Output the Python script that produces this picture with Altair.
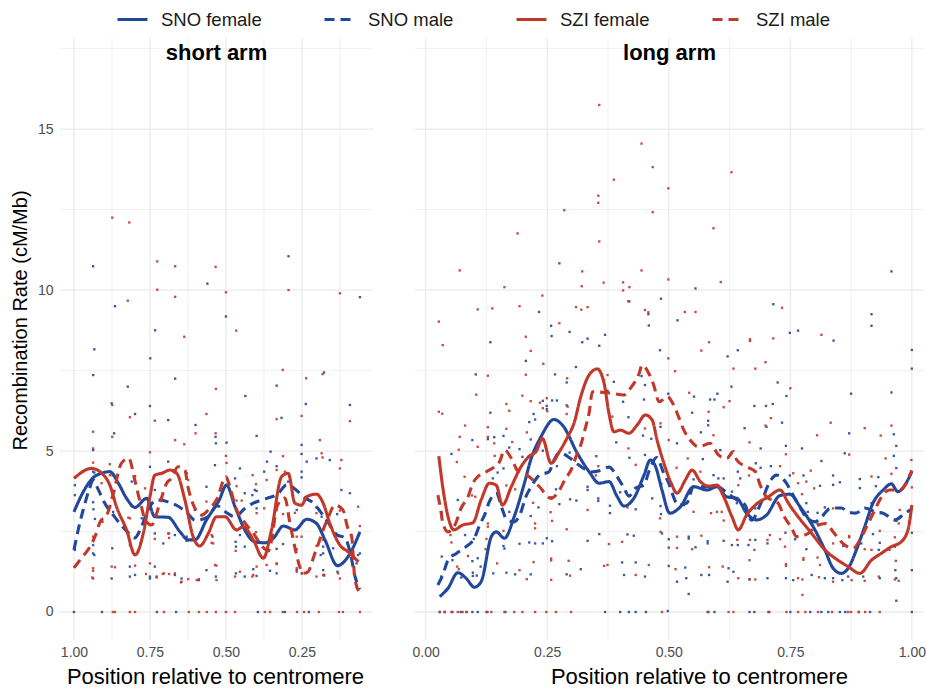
import altair as alt
import pandas as pd

# ---------------------------------------------------------------- data
SERIES = ["SNO female", "SNO male", "SZI female", "SZI male"]

# smoothed recombination-rate profiles, short arm (position runs from 1 at the tip to 0 at the centromere)
short_sno_female = [(1.0, 3.11), (0.969, 3.74), (0.936, 4.18), (0.909, 4.31), (0.882, 4.36), (0.854, 4.0),
                    (0.827, 3.53), (0.799, 3.25), (0.761, 3.53), (0.734, 2.96), (0.69, 2.94), (0.651, 2.49),
                    (0.624, 2.24), (0.602, 2.24), (0.564, 2.86), (0.522, 3.48), (0.498, 3.94), (0.47, 3.27),
                    (0.438, 2.55), (0.405, 2.18), (0.372, 2.15), (0.344, 2.29), (0.311, 2.67), (0.273, 2.55),
                    (0.234, 2.88), (0.202, 2.75), (0.174, 2.24), (0.133, 1.44), (0.098, 1.72), (0.059, 2.49)]
short_sno_male = [(1.0, 1.93), (0.985, 2.6), (0.969, 3.2), (0.95, 3.8), (0.937, 4.1), (0.92, 3.8), (0.9, 3.4),
                  (0.87, 3.0), (0.845, 2.7), (0.82, 2.45), (0.8, 2.3), (0.78, 2.6), (0.755, 3.2), (0.727, 3.48),
                  (0.69, 3.42), (0.66, 3.3), (0.63, 3.1), (0.6, 2.85), (0.56, 2.95), (0.53, 3.3), (0.5, 3.1),
                  (0.47, 2.95), (0.44, 3.2), (0.41, 3.38), (0.365, 3.53), (0.33, 3.66), (0.3, 3.95), (0.27, 3.8),
                  (0.24, 3.54), (0.217, 3.42), (0.18, 3.0), (0.165, 2.8), (0.135, 2.4), (0.108, 2.3), (0.09, 1.8),
                  (0.075, 1.1), (0.06, 0.7)]
short_szi_female = [(1.0, 4.15), (0.942, 4.46), (0.909, 4.31), (0.882, 3.94), (0.86, 3.27), (0.827, 2.55),
                    (0.799, 1.77), (0.772, 2.44), (0.75, 3.58), (0.734, 4.25), (0.711, 4.31), (0.684, 4.41),
                    (0.662, 4.31), (0.635, 3.48), (0.608, 2.34), (0.586, 2.05), (0.558, 2.44), (0.531, 2.96),
                    (0.503, 2.96), (0.465, 2.55), (0.443, 2.65), (0.41, 2.24), (0.377, 1.67), (0.35, 2.55),
                    (0.317, 4.2), (0.295, 4.31), (0.273, 3.38), (0.251, 3.32), (0.234, 3.58), (0.202, 3.66),
                    (0.18, 3.38), (0.158, 2.75), (0.125, 2.08), (0.098, 1.87), (0.064, 1.56)]
short_szi_male = [(1.0, 1.37), (0.975, 1.68), (0.947, 2.03), (0.931, 2.34), (0.914, 2.8), (0.892, 3.01),
                  (0.87, 3.7), (0.845, 4.6), (0.82, 4.78), (0.8, 4.1), (0.788, 3.63), (0.777, 3.23), (0.766, 2.86),
                  (0.745, 2.7), (0.72, 3.3), (0.695, 4.0), (0.679, 4.15), (0.658, 4.51), (0.635, 4.41),
                  (0.625, 3.89), (0.613, 3.48), (0.58, 3.01), (0.558, 3.17), (0.53, 3.5), (0.5, 4.2), (0.487, 3.89),
                  (0.47, 3.3), (0.44, 2.8), (0.41, 2.45), (0.377, 2.0), (0.36, 1.9), (0.33, 3.32), (0.306, 3.54),
                  (0.29, 2.8), (0.273, 2.0), (0.26, 1.5), (0.247, 1.2), (0.231, 1.24), (0.207, 1.83), (0.197, 2.08),
                  (0.18, 2.55), (0.165, 2.9), (0.141, 3.32), (0.115, 3.17), (0.1, 2.64), (0.086, 2.33),
                  (0.076, 1.05), (0.06, 0.6)]

# smoothed profiles, long arm (0 at the centromere, 1 at the tip)
long_sno_female = [(0.029, 0.48), (0.046, 0.74), (0.066, 1.22), (0.083, 1.05), (0.1, 0.77), (0.114, 0.94),
                   (0.135, 2.34), (0.145, 2.49), (0.162, 2.29), (0.182, 2.96), (0.203, 4.0), (0.217, 4.77),
                   (0.237, 5.44), (0.264, 5.98), (0.281, 5.81), (0.312, 4.93), (0.336, 4.36), (0.357, 4.0),
                   (0.377, 4.05), (0.394, 3.58), (0.408, 3.29), (0.428, 3.53), (0.449, 4.25), (0.462, 4.72),
                   (0.473, 4.51), (0.486, 3.79), (0.502, 3.07), (0.524, 3.27), (0.551, 3.89), (0.579, 3.79),
                   (0.599, 3.89), (0.619, 3.58), (0.64, 3.53), (0.66, 3.07), (0.681, 2.86), (0.701, 3.01),
                   (0.729, 3.62), (0.749, 3.66), (0.77, 3.27), (0.797, 2.65), (0.821, 1.93), (0.838, 1.36),
                   (0.855, 1.2), (0.869, 1.36), (0.886, 1.93), (0.903, 2.65), (0.92, 3.38), (0.941, 3.79),
                   (0.958, 3.98), (0.971, 3.74), (1.0, 4.36)]
long_sno_male = [(0.025, 0.84), (0.035, 1.15), (0.046, 1.61), (0.063, 1.82), (0.083, 2.03), (0.1, 2.29),
                 (0.111, 2.7), (0.121, 3.01), (0.131, 3.43), (0.145, 3.69), (0.158, 3.17), (0.165, 2.91),
                 (0.182, 2.8), (0.196, 3.11), (0.206, 3.58), (0.217, 3.89), (0.234, 4.25), (0.254, 4.36),
                 (0.264, 4.72), (0.275, 4.95), (0.295, 4.8), (0.312, 4.6), (0.326, 4.45), (0.34, 4.35), (0.36, 4.4),
                 (0.377, 4.5), (0.394, 4.2), (0.408, 3.85), (0.418, 3.6), (0.432, 3.85), (0.449, 3.95), (0.46, 4.4),
                 (0.475, 4.8), (0.49, 4.3), (0.5, 4.0), (0.506, 3.73), (0.52, 3.32), (0.537, 3.38), (0.551, 3.89),
                 (0.565, 3.89), (0.6, 3.9), (0.62, 3.7), (0.64, 3.48), (0.657, 3.32), (0.67, 2.85), (0.69, 3.4),
                 (0.708, 4.05), (0.722, 4.25), (0.742, 4.0), (0.752, 3.73), (0.77, 3.25), (0.785, 2.9),
                 (0.801, 2.8), (0.811, 2.9), (0.834, 3.23), (0.855, 3.23), (0.87, 3.1), (0.885, 3.07),
                 (0.903, 3.23), (0.926, 3.1), (0.941, 3.07), (0.965, 2.86), (0.986, 3.07), (1.0, 3.2)]
long_szi_female = [(0.027, 4.84), (0.035, 3.89), (0.046, 2.96), (0.058, 2.55), (0.076, 2.7), (0.097, 2.77),
                   (0.114, 3.48), (0.131, 4.0), (0.145, 3.94), (0.158, 3.32), (0.176, 3.89), (0.196, 4.51),
                   (0.213, 4.84), (0.227, 4.98), (0.24, 5.39), (0.258, 4.62), (0.275, 4.98), (0.292, 5.44),
                   (0.305, 5.86), (0.319, 6.69), (0.336, 7.36), (0.353, 7.55), (0.367, 7.1), (0.377, 6.17),
                   (0.387, 5.6), (0.401, 5.65), (0.418, 5.55), (0.435, 5.81), (0.452, 6.12), (0.466, 5.96),
                   (0.476, 5.34), (0.49, 4.62), (0.505, 4.0), (0.517, 3.69), (0.534, 4.1), (0.548, 4.41),
                   (0.565, 4.05), (0.582, 3.91), (0.599, 3.94), (0.613, 3.58), (0.63, 2.96), (0.643, 2.55),
                   (0.66, 3.01), (0.678, 3.32), (0.705, 3.58), (0.729, 3.79), (0.746, 3.38), (0.766, 2.96),
                   (0.794, 2.44), (0.821, 1.93), (0.848, 1.61), (0.869, 1.41), (0.893, 1.2), (0.917, 1.61),
                   (0.937, 1.82), (0.958, 2.03), (0.978, 2.18), (0.992, 2.55), (1.0, 3.32)]
long_szi_male = [(0.025, 3.63), (0.031, 3.17), (0.035, 2.77), (0.046, 2.49), (0.06, 2.7), (0.073, 3.23),
                 (0.087, 3.58), (0.097, 4.0), (0.107, 4.2), (0.13, 4.4), (0.152, 4.67), (0.162, 5.03),
                 (0.178, 4.72), (0.188, 4.41), (0.213, 4.2), (0.234, 3.89), (0.258, 3.53), (0.271, 3.69),
                 (0.288, 4.15), (0.299, 4.41), (0.309, 4.82), (0.319, 5.19), (0.329, 5.75), (0.336, 6.17),
                 (0.343, 6.84), (0.38, 6.8), (0.408, 6.74), (0.421, 6.95), (0.439, 7.41), (0.445, 7.67),
                 (0.459, 7.41), (0.469, 7.05), (0.48, 6.53), (0.497, 6.69), (0.51, 6.43), (0.52, 6.07),
                 (0.531, 5.65), (0.544, 5.34), (0.561, 5.13), (0.585, 5.24), (0.602, 4.88), (0.619, 4.77),
                 (0.633, 4.98), (0.64, 4.72), (0.66, 4.51), (0.678, 4.36), (0.688, 3.94), (0.701, 3.58),
                 (0.725, 3.38), (0.736, 3.01), (0.753, 2.6), (0.763, 2.34), (0.787, 2.44), (0.801, 2.65),
                 (0.824, 2.75), (0.838, 2.49), (0.862, 2.08), (0.879, 1.98), (0.9, 2.44), (0.91, 2.75),
                 (0.924, 3.17), (0.934, 3.48), (0.954, 3.79), (0.975, 3.79), (1.0, 4.4)]

# per-window estimates (position, rate); windows with no crossover are listed separately at rate 0
short_sno_points = [(0.937, 10.74), (0.294, 11.05), (0.561, 10.2), (0.059, 9.78), (0.865, 9.5), (0.5, 9.18),
                    (0.733, 8.75), (0.933, 8.16), (0.749, 7.88), (0.937, 7.36), (0.177, 7.44), (0.667, 7.25),
                    (0.823, 7.0), (0.333, 7.03), (0.436, 6.71), (0.876, 6.48), (0.237, 6.46), (0.092, 6.43),
                    (0.75, 6.4), (0.799, 6.15), (0.317, 6.03), (0.69, 5.96), (0.6, 5.81), (0.868, 5.55),
                    (0.399, 5.47), (0.534, 5.44), (0.498, 5.26), (0.533, 5.24), (0.251, 5.19), (0.937, 5.03),
                    (0.353, 4.98), (0.251, 4.91), (0.202, 4.77), (0.158, 4.72), (0.234, 4.67), (0.69, 4.67),
                    (0.365, 4.67), (0.536, 4.56), (0.333, 4.53), (0.75, 4.51), (0.454, 4.46), (0.937, 4.36),
                    (0.374, 4.36), (0.251, 4.36), (0.933, 4.33), (0.629, 4.31), (0.873, 4.25), (0.799, 4.22),
                    (0.251, 4.18), (0.47, 4.15), (0.81, 4.05), (0.295, 4.05), (0.997, 3.94), (0.564, 3.89),
                    (0.405, 3.79), (0.12, 3.79), (0.734, 3.79), (0.399, 3.76), (0.092, 3.69), (0.438, 3.69),
                    (0.413, 3.63), (0.997, 3.63), (0.717, 3.48), (0.937, 3.41), (0.75, 3.38), (0.81, 3.29),
                    (0.202, 3.25), (0.399, 3.22), (0.936, 3.19), (0.602, 3.17), (0.267, 3.17), (0.871, 3.11),
                    (0.134, 3.04), (0.185, 2.96), (0.777, 2.91), (0.931, 2.89), (0.734, 2.44), (0.454, 2.39),
                    (0.668, 2.39), (0.629, 2.34), (0.544, 2.34), (0.629, 2.21), (0.468, 2.18), (0.706, 2.13),
                    (0.312, 2.11), (0.937, 2.08), (0.816, 2.08), (0.467, 2.03), (0.438, 2.03), (0.18, 2.03),
                    (0.147, 1.98), (0.874, 1.98), (0.333, 1.96), (0.997, 1.93), (0.937, 1.82), (0.18, 1.82),
                    (0.059, 1.82), (0.933, 1.77), (0.188, 1.77), (0.065, 1.77), (0.07, 1.51), (0.816, 1.41),
                    (0.734, 1.41), (0.564, 1.3), (0.41, 1.33), (0.18, 1.3), (0.267, 1.3), (0.355, 1.28),
                    (0.133, 1.25), (0.467, 1.2), (0.333, 1.2), (0.25, 1.2), (0.799, 1.15), (0.668, 1.15),
                    (0.177, 1.15), (0.399, 1.12), (0.75, 1.1), (0.728, 1.1), (0.533, 1.1), (0.438, 1.1),
                    (0.816, 1.1), (0.876, 1.04), (0.646, 1.04), (0.75, 1.04), (0.589, 0.99)]
short_sno_zero = [1.0, 0.908, 0.727, 0.664, 0.395, 0.306, 0.227]

short_szi_points = [(0.874, 12.25), (0.818, 12.1), (0.726, 10.89), (0.667, 10.74), (0.534, 10.72), (0.726, 10.01),
                    (0.823, 9.67), (0.667, 9.79), (0.5, 9.93), (0.294, 10.0), (0.125, 9.9), (0.637, 8.55),
                    (0.466, 8.74), (0.313, 7.52), (0.236, 7.26), (0.182, 7.39), (0.533, 6.93), (0.874, 6.43),
                    (0.564, 6.15), (0.251, 6.09), (0.816, 6.05), (0.333, 5.99), (0.734, 5.94), (0.092, 5.93),
                    (0.937, 5.6), (0.6, 5.55), (0.534, 5.55), (0.874, 5.44), (0.667, 5.34), (0.191, 5.34),
                    (0.637, 5.21), (0.937, 5.08), (0.75, 4.96), (0.185, 4.93), (0.5, 4.85), (0.312, 4.84),
                    (0.182, 4.8), (0.12, 4.72), (0.937, 4.64), (0.498, 4.63), (0.882, 4.59), (0.125, 4.46),
                    (0.333, 4.41), (0.306, 4.36), (0.882, 4.25), (0.412, 4.25), (0.366, 4.1), (0.624, 4.1),
                    (0.909, 4.0), (0.401, 3.97), (0.465, 3.91), (0.766, 3.84), (0.476, 3.48), (0.465, 3.46),
                    (0.448, 3.46), (0.564, 3.43), (0.065, 3.27), (0.374, 3.22), (0.194, 3.19), (0.125, 3.15),
                    (0.273, 3.08), (0.399, 3.07), (0.202, 3.07), (0.312, 3.04), (0.821, 2.93), (0.816, 2.91),
                    (0.906, 2.8), (0.059, 2.67), (0.401, 2.48), (0.69, 2.44), (0.687, 2.44), (0.547, 2.39),
                    (0.937, 2.34), (0.251, 2.34), (0.267, 2.34), (0.799, 2.31), (0.687, 2.3), (0.734, 2.27),
                    (0.18, 2.24), (0.547, 2.15), (0.542, 2.13), (0.202, 2.05), (0.267, 1.95), (0.468, 1.9),
                    (0.75, 1.51), (0.333, 1.51), (0.366, 1.46), (0.536, 1.46), (0.333, 1.49), (0.799, 1.44),
                    (0.531, 1.44), (0.876, 1.41), (0.997, 1.41), (0.399, 1.41), (0.865, 1.39), (0.937, 1.36),
                    (0.267, 1.36), (0.937, 1.28), (0.454, 1.25), (0.267, 1.25), (0.704, 1.2), (0.668, 1.2),
                    (0.25, 1.2), (0.131, 1.2), (0.763, 1.18), (0.708, 1.18), (0.687, 1.18), (0.41, 1.15),
                    (0.18, 1.15), (0.177, 1.13), (0.47, 1.1), (0.413, 1.1), (0.202, 1.1), (0.728, 1.07),
                    (0.94, 1.07), (0.937, 1.04), (0.125, 1.04), (0.624, 1.02), (0.589, 1.02), (0.531, 0.99),
                    (0.596, 0.99), (0.646, 0.94), (0.648, 0.92)]
short_szi_zero = [0.872, 0.865, 0.816, 0.799, 0.704, 0.622, 0.589, 0.563, 0.533, 0.5, 0.47, 0.372, 0.355,
                  0.313, 0.266, 0.243, 0.194, 0.128, 0.115, 0.059]

long_sno_points = [(0.275, 10.83), (0.958, 10.58), (0.555, 10.05), (0.484, 9.73), (0.417, 9.65), (0.715, 9.56),
                   (0.233, 9.32), (0.458, 9.25), (0.917, 9.25), (0.917, 8.89), (0.258, 8.89), (0.459, 8.9),
                   (0.518, 9.06), (0.296, 8.7), (0.259, 8.57), (0.369, 8.61), (0.766, 8.74), (0.749, 8.67),
                   (0.839, 8.43), (0.133, 8.38), (0.322, 8.38), (0.333, 8.49), (0.357, 8.27), (0.482, 8.13),
                   (0.621, 7.94), (0.642, 8.13), (1.0, 8.14), (1.0, 7.56), (0.206, 7.8), (0.309, 7.61),
                   (0.103, 7.38), (0.266, 7.38), (0.444, 7.33), (0.724, 7.13), (0.29, 7.13), (0.958, 6.82),
                   (0.875, 6.78), (0.629, 7.0), (0.742, 6.71), (0.451, 7.05), (0.387, 7.15), (0.374, 6.87),
                   (0.499, 6.78), (0.552, 6.69), (0.6, 6.78), (0.449, 6.6), (0.406, 6.53), (0.585, 6.6),
                   (0.594, 6.6), (0.241, 6.56), (0.26, 6.57), (0.27, 6.57), (0.249, 6.4), (0.29, 6.42),
                   (0.676, 6.4), (0.714, 6.46), (0.7, 6.4), (0.249, 6.3), (0.548, 6.19), (0.133, 6.19),
                   (0.222, 6.15), (0.417, 6.05), (0.225, 5.98), (0.581, 5.94), (0.213, 5.9), (0.733, 5.88),
                   (0.581, 5.8), (0.483, 5.75), (0.701, 5.75), (0.656, 5.71), (0.3, 5.68), (0.566, 5.58),
                   (0.871, 5.55), (0.963, 5.52), (0.447, 5.48), (0.16, 5.47), (0.141, 5.43), (0.464, 5.38),
                   (0.128, 5.37), (0.216, 5.36), (0.096, 5.34), (0.392, 5.27), (0.517, 5.24), (0.968, 5.16),
                   (0.741, 5.16), (0.172, 5.11), (0.689, 5.08), (0.774, 5.08), (0.193, 5.06), (0.606, 5.03),
                   (0.241, 5.01), (0.296, 4.95), (0.862, 4.93), (0.053, 4.91), (0.451, 4.88), (0.963, 4.85),
                   (0.351, 4.84), (0.199, 4.82), (0.419, 4.79), (0.57, 4.75), (0.814, 4.69), (0.679, 4.62),
                   (0.27, 4.53), (0.71, 4.53), (0.689, 4.48), (0.968, 4.47), (0.16, 4.46), (0.642, 4.36),
                   (0.148, 4.33), (0.592, 4.25), (0.749, 4.24), (0.777, 4.24), (0.838, 4.24), (0.931, 4.19),
                   (0.602, 4.15), (0.613, 4.15), (0.647, 4.15), (0.138, 4.15), (0.893, 4.13), (0.551, 4.12),
                   (0.852, 4.03), (0.838, 3.95), (0.811, 3.92), (0.926, 3.91), (0.333, 3.89), (0.893, 3.85),
                   (0.268, 3.81), (0.333, 3.79), (0.63, 3.74), (0.4, 3.72), (0.258, 3.56), (0.355, 3.53),
                   (0.466, 3.53), (0.297, 3.5), (0.066, 3.48), (0.31, 3.46), (0.355, 3.45), (0.64, 3.38),
                   (0.783, 3.38), (0.917, 3.38), (0.275, 3.35), (0.531, 3.32), (0.379, 3.3), (0.483, 3.29),
                   (0.232, 3.25), (0.821, 3.25), (0.678, 3.22), (0.432, 3.19), (0.172, 3.11), (0.786, 3.11),
                   (0.033, 3.08), (0.806, 3.08), (0.937, 3.08), (0.379, 3.07), (0.484, 3.04), (0.216, 2.98),
                   (0.968, 2.83), (0.806, 2.75), (0.74, 2.46), (1.0, 2.46), (0.486, 2.44), (0.357, 2.42),
                   (0.415, 2.41), (0.92, 2.42), (0.081, 2.39), (0.428, 2.37), (0.541, 2.34), (0.249, 2.29),
                   (0.541, 2.28), (0.099, 2.27), (0.5, 2.26), (0.76, 2.26), (0.333, 2.21), (0.613, 2.21),
                   (0.26, 2.2), (0.58, 2.2), (0.678, 2.24), (0.213, 2.16), (0.934, 2.15), (0.225, 2.13),
                   (0.241, 2.13), (0.58, 2.13), (0.703, 2.13), (0.896, 2.13), (0.193, 2.12), (0.63, 2.08),
                   (0.642, 2.08), (0.664, 2.08), (0.16, 2.05), (0.859, 2.05), (0.965, 2.03), (0.555, 2.01),
                   (0.5, 2.0), (0.162, 1.97), (0.783, 1.95), (0.932, 1.93), (0.033, 1.72), (0.107, 1.67),
                   (0.055, 1.61), (0.096, 1.58), (0.432, 1.54), (0.404, 1.54), (0.5, 1.43), (0.113, 1.41),
                   (0.534, 1.38), (0.623, 1.36), (0.319, 1.33), (0.966, 1.3), (1.0, 1.3), (0.633, 1.25),
                   (0.097, 1.22), (0.166, 1.22), (0.139, 1.2), (0.184, 1.17), (0.216, 1.17), (0.29, 1.17),
                   (0.408, 1.15), (0.567, 1.15), (0.583, 1.15), (0.794, 1.15), (0.105, 1.13), (0.097, 1.12),
                   (0.032, 1.1), (0.451, 1.1), (0.869, 1.1), (0.9, 1.1), (0.073, 1.07), (0.536, 1.05),
                   (0.741, 1.05), (0.703, 1.05), (0.821, 1.05), (0.838, 1.05), (0.934, 1.05), (0.968, 1.05),
                   (0.666, 1.02), (0.756, 0.99), (0.857, 0.99), (0.517, 0.94), (0.621, 0.94), (0.541, 0.56),
                   (0.968, 0.35), (0.498, 0.03)]
long_sno_zero = [0.029, 0.039, 0.055, 0.072, 0.084, 0.096, 0.107, 0.127, 0.164, 0.369, 0.4, 0.418, 0.432,
                 0.453, 0.58, 0.594, 0.666, 0.676, 0.705, 0.75, 0.791, 0.814, 0.828, 0.852, 0.863, 0.891,
                 0.914, 1.0]

long_szi_points = [(0.357, 15.75), (0.444, 14.55), (0.467, 13.82), (0.387, 13.43), (0.629, 13.66), (0.499, 13.16),
                   (0.355, 12.93), (0.355, 12.71), (0.285, 12.48), (0.467, 12.42), (0.592, 11.92), (0.189, 11.76),
                   (0.357, 11.51), (0.07, 10.61), (0.322, 10.58), (0.444, 10.61), (0.499, 10.33), (0.607, 10.25),
                   (0.162, 10.09), (0.321, 10.12), (0.366, 10.23), (0.406, 10.24), (0.419, 10.09), (0.406, 9.99),
                   (0.24, 9.83), (0.419, 9.65), (0.451, 9.38), (0.458, 9.31), (0.533, 9.32), (0.555, 9.32),
                   (0.733, 9.45), (0.027, 9.02), (0.107, 9.4), (0.137, 9.43), (0.193, 9.5), (0.309, 9.47),
                   (0.32, 9.39), (0.333, 9.47), (0.275, 8.97), (0.035, 8.29), (0.206, 8.55), (0.216, 8.11),
                   (0.667, 8.47), (0.667, 8.42), (0.715, 8.5), (0.814, 8.61), (0.583, 8.38), (0.567, 8.12),
                   (0.499, 7.88), (0.242, 7.71), (0.699, 7.76), (0.513, 7.48), (0.633, 7.56), (0.678, 7.56),
                   (0.128, 7.34), (0.206, 7.37), (0.374, 7.36), (0.291, 7.26), (0.367, 7.2), (0.75, 6.95),
                   (0.542, 6.81), (0.104, 6.75), (0.199, 6.72), (0.249, 6.64), (0.216, 6.55), (0.625, 6.55),
                   (0.235, 6.5), (0.166, 6.46), (0.292, 6.38), (0.613, 6.36), (0.241, 6.33), (0.172, 6.25),
                   (0.25, 6.24), (0.027, 6.22), (0.582, 6.22), (0.034, 6.16), (0.29, 6.15), (0.384, 6.07),
                   (0.71, 6.02), (0.833, 5.88), (0.483, 5.86), (0.081, 5.79), (0.699, 5.79), (0.958, 5.79),
                   (0.128, 5.74), (0.903, 5.71), (0.451, 5.7), (0.166, 5.69), (0.208, 5.58), (0.592, 5.49),
                   (0.805, 5.49), (0.936, 5.48), (0.07, 5.44), (0.128, 5.44), (0.5, 5.34), (0.178, 5.28),
                   (0.666, 5.27), (0.141, 5.24), (0.107, 5.13), (0.417, 5.08), (0.068, 5.04), (0.741, 4.9),
                   (0.871, 4.89), (0.142, 4.85), (0.539, 4.77), (0.946, 4.77), (0.999, 4.72), (0.064, 4.66),
                   (0.432, 4.57), (0.355, 4.53), (0.729, 4.53), (0.516, 4.48), (0.792, 4.39), (0.565, 4.36),
                   (0.756, 4.31), (0.958, 4.29), (0.35, 4.24), (0.665, 4.24), (0.917, 4.21), (0.08, 4.2),
                   (0.783, 4.05), (0.766, 4.0), (0.485, 3.98), (0.643, 3.94), (0.166, 3.93), (1.0, 3.87),
                   (0.799, 3.84), (0.184, 3.81), (0.774, 3.66), (0.095, 3.62), (0.102, 3.58), (0.221, 3.39),
                   (0.415, 3.25), (0.838, 3.22), (0.333, 3.17), (0.975, 3.17), (0.551, 3.11), (0.599, 3.11),
                   (0.609, 3.11), (0.257, 3.1), (0.587, 3.07), (0.917, 3.03), (0.482, 2.91), (0.613, 2.84),
                   (0.26, 2.83), (0.225, 2.75), (0.128, 2.75), (0.973, 2.75), (0.128, 2.65), (0.225, 2.6),
                   (0.29, 2.57), (0.16, 2.52), (0.934, 2.52), (0.483, 2.49), (0.051, 2.39), (0.708, 2.39),
                   (0.567, 2.37), (0.871, 2.36), (0.517, 2.34), (0.871, 2.32), (0.965, 2.32), (0.125, 2.27),
                   (0.729, 2.26), (0.641, 2.24), (0.667, 2.24), (0.703, 2.24), (0.404, 2.18), (0.053, 2.16),
                   (0.838, 2.13), (0.377, 2.11), (0.739, 2.03), (0.517, 1.99), (0.123, 1.95), (0.548, 1.95),
                   (0.903, 1.95), (0.676, 1.93), (0.917, 1.93), (0.954, 1.93), (0.087, 1.74), (0.806, 1.69),
                   (0.777, 1.67), (0.258, 1.66), (0.777, 1.62), (0.666, 1.61), (0.258, 1.6), (0.294, 1.59),
                   (0.967, 1.59), (0.222, 1.55), (0.147, 1.51), (0.741, 1.49), (0.459, 1.46), (0.374, 1.46),
                   (0.811, 1.46), (0.367, 1.43), (0.741, 1.43), (0.065, 1.41), (0.611, 1.41), (0.583, 1.39),
                   (0.068, 1.33), (0.514, 1.33), (0.193, 1.3), (0.432, 1.15), (0.297, 1.13), (0.932, 1.1),
                   (0.809, 1.08), (0.643, 1.05), (0.766, 1.05), (0.208, 1.02), (0.666, 1.01), (0.678, 1.01),
                   (0.775, 1.01), (0.965, 1.01), (0.258, 1.0), (0.876, 0.99), (0.903, 0.97), (0.973, 0.97),
                   (0.838, 0.94), (0.775, 0.53)]
long_szi_zero = [0.029, 0.039, 0.053, 0.066, 0.076, 0.084, 0.125, 0.135, 0.162, 0.182, 0.199, 0.225, 0.248,
                 0.268, 0.299, 0.486, 0.582, 0.623, 0.633, 0.707, 0.742, 0.766, 0.781, 0.807, 0.836, 0.869,
                 0.875, 0.891, 0.904, 0.934]

# axis breaks
short_ticks = [1.0, 0.75, 0.5, 0.25]
short_minor = [0.875, 0.625, 0.375, 0.125]
long_ticks = [0.0, 0.25, 0.5, 0.75, 1.0]
long_minor = [0.125, 0.375, 0.625, 0.875]
rate_major = [0, 5, 10, 15]
rate_minor = [2.5, 7.5, 12.5, 17.5]

# ---------------------------------------------------------------- style
BLUE = "#22489b"
RED = "#c0392b"
GRID = "#ebebeb"
FONT = "Liberation Sans"
DASH = [10, 6]


def line_frame(pairs, series):
    return pd.DataFrame({"pos": [p[0] for p in pairs], "rate": [p[1] for p in pairs],
                         "series": series, "idx": list(range(len(pairs)))})


def point_frame(pairs, zeros):
    return pd.DataFrame({"pos": [p[0] for p in pairs] + list(zeros),
                         "rate": [p[1] for p in pairs] + [0.0] * len(zeros)})


y_scale = alt.Scale(domain=[-0.87, 17.83], nice=False, zero=False)
y_axis = alt.Axis(values=rate_major, title="Recombination Rate (cM/Mb)", grid=False, ticks=False,
                  domain=False, labelFont=FONT, labelFontSize=14, labelColor="#4d4d4d", labelPadding=7,
                  titleFont=FONT, titleFontSize=20, titleFontWeight="normal", titleColor="#000000",
                  titleAngle=270, titleX=-40, titleY=282, titleAlign="center", titleBaseline="middle")

legend = alt.Legend(title=None, orient="none", legendX=56, legendY=-35, direction="horizontal", columns=4,
                    symbolType="stroke", symbolSize=900, symbolStrokeWidth=3, labelFont=FONT,
                    labelFontSize=18.5, labelColor="#1a1a1a", labelOffset=12, columnPadding=56, padding=0)
color = alt.Color("series:N", scale=alt.Scale(domain=SERIES, range=[BLUE, BLUE, RED, RED]), legend=legend)
dash = alt.StrokeDash("series:N", scale=alt.Scale(domain=SERIES, range=[[1, 0], DASH, [1, 0], DASH]),
                      legend=legend)


def panel(name, lines, sno_pts, szi_pts, x_domain, x_range, ticks, minor, title_center):
    x_scale = alt.Scale(domain=x_domain, range=x_range, nice=False, zero=False)
    x_axis = alt.Axis(values=ticks, format=".2f", orient="bottom", title="Position relative to centromere",
                      grid=False, ticks=False, domain=False, labelFont=FONT, labelFontSize=14,
                      labelColor="#4d4d4d", labelPadding=5, titleFont=FONT, titleFontSize=22,
                      titleFontWeight="normal", titleColor="#000000", titlePadding=7, titleX=title_center)

    def X(f):
        return alt.X(f"{f}:Q", scale=x_scale, axis=x_axis)

    def Y(f):
        return alt.Y(f"{f}:Q", scale=y_scale, axis=y_axis)

    left, right = min(x_range), max(x_range)
    h_major = alt.Chart(pd.DataFrame({"v": rate_major})).mark_rule(color=GRID, strokeWidth=1.3).encode(
        y=Y("v"), x=alt.value(left), x2=alt.value(right))
    h_minor = alt.Chart(pd.DataFrame({"v": rate_minor})).mark_rule(color=GRID, strokeWidth=0.7).encode(
        y=Y("v"), x=alt.value(left), x2=alt.value(right))
    v_major = alt.Chart(pd.DataFrame({"v": ticks})).mark_rule(color=GRID, strokeWidth=1.3).encode(x=X("v"))
    v_minor = alt.Chart(pd.DataFrame({"v": minor})).mark_rule(color=GRID, strokeWidth=0.7).encode(x=X("v"))

    blue_pts = alt.Chart(sno_pts).mark_square(size=5.5, color=BLUE, opacity=0.9).encode(x=X("pos"), y=Y("rate"))
    red_pts = alt.Chart(szi_pts).mark_square(size=5.5, color=RED, opacity=0.9).encode(x=X("pos"), y=Y("rate"))

    curves = alt.Chart(lines).mark_line(strokeWidth=3.1, interpolate="monotone", strokeCap="butt").encode(
        x=X("pos"), y=Y("rate"), color=color, strokeDash=dash, order="idx:Q")

    label = alt.Chart(pd.DataFrame({"t": [name]})).mark_text(
        font=FONT, fontSize=22, fontWeight="bold", color="#000000", baseline="middle").encode(
        x=alt.value((left + right) / 2), y=alt.value(15), text="t:N")

    return alt.layer(h_minor, h_major, v_minor, v_major, blue_pts, red_pts, curves, label)


short_lines = pd.concat([line_frame(short_sno_female, "SNO female"), line_frame(short_sno_male, "SNO male"),
                         line_frame(short_szi_female, "SZI female"), line_frame(short_szi_male, "SZI male")])
long_lines = pd.concat([line_frame(long_sno_female, "SNO female"), line_frame(long_sno_male, "SNO male"),
                        line_frame(long_szi_female, "SZI female"), line_frame(long_szi_male, "SZI male")])

short_panel = panel("short arm", short_lines, point_frame(short_sno_points, short_sno_zero),
                    point_frame(short_szi_points, short_szi_zero), [0.016, 1.046], [313, 0],
                    short_ticks, short_minor, 155)
long_panel = panel("long arm", long_lines, point_frame(long_sno_points, long_sno_zero),
                   point_frame(long_szi_points, long_szi_zero), [-0.022, 1.025], [355, 864],
                   long_ticks, long_minor, 639)

chart = alt.layer(short_panel, long_panel).resolve_scale(x="independent").properties(
    width=864, height=602,
    autosize=alt.AutoSizeParams(type="none"),
    padding={"left": 60, "top": 38, "right": 2, "bottom": 49},
    background="#ffffff",
).configure_view(stroke=None)

chart.save("out.html", embed_options={"renderer": "svg", "actions": False})
